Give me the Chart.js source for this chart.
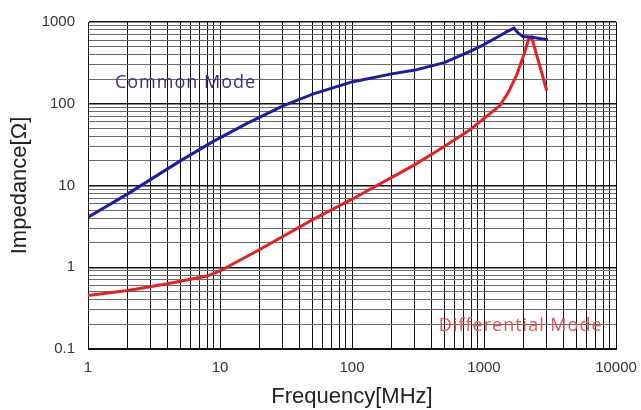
<!DOCTYPE html>
<html>
<head>
<meta charset="utf-8">
<script src="https://cdn.jsdelivr.net/npm/chart.js@4"></script>
<style>
  html, body { margin: 0; padding: 0; background: #fff; }
  #wrap { width: 641px; height: 410px; }
</style>
</head>
<body>
<div id="wrap"><canvas id="impChart" width="641" height="410"></canvas></div>
<script>
// Common mode impedance
const cmFreq = [1, 2, 5, 8.9, 15.9, 30, 51, 100, 200, 300, 500, 783, 1000, 1080, 1320, 1490, 1690, 1820, 1975, 2300, 3050];
const cmImp = [4.1, 7.9, 20, 34.6, 57, 94, 132, 185, 232, 258, 318, 438, 528, 570, 680, 764, 840, 730, 665, 650, 607];

// Differential mode impedance
const dmFreq = [1, 2, 4, 8, 10, 20, 50, 100, 300, 500, 783, 1000, 1320, 1530, 1780, 2045, 2170, 2296, 2500, 2735, 2985];
const dmImp = [0.45, 0.52, 0.63, 0.78, 0.9, 1.65, 3.8, 6.8, 18, 30, 48, 66, 95, 138, 230, 438, 607, 654, 400, 241, 145];

// axis decades + labels
const xDecades = [1, 10, 100, 1000, 10000];
const xTickLabels = ["1", "10", "100", "1000", "10000"];
const yDecades = [0.1, 1, 10, 100, 1000];
const yTickLabels = ["0.1", "1", "10", "100", "1000"];

// curve annotations
const annotations = [
  { text: "Common Mode", x: 1.6, y: 178, color: "#33338f" },
  { text: "Differential Mode", x: 455, y: 0.19, color: "#e25555" },
];

// 1..9 per decade, label only on the decade itself
function buildLogTicks(decades, labels) {
  const out = [];
  decades.forEach((d, i) => {
    if (i === decades.length - 1) {
      out.push({ value: d, label: labels[i], major: true });
      return;
    }
    for (let m = 1; m <= 9; m++) {
      out.push({ value: d * m, label: m === 1 ? labels[i] : "", major: m === 1 });
    }
  });
  return out;
}

const xTicks = buildLogTicks(xDecades, xTickLabels);
const yTicks = buildLogTicks(yDecades, yTickLabels);

const toPoints = (xs, ys) => xs.map((x, i) => ({ x: x, y: ys[i] }));

const annotationPlugin = {
  id: "curveLabels",
  afterDatasetsDraw(chart) {
    const ctx = chart.ctx;
    const xs = chart.scales.x;
    const ys = chart.scales.y;
    ctx.save();
    ctx.font = "18px 'Open Sans'";
    ctx.letterSpacing = "1px";
    ctx.textBaseline = "middle";
    ctx.textAlign = "left";
    annotations.forEach((a) => {
      ctx.fillStyle = a.color;
      ctx.fillText(a.text, xs.getPixelForValue(a.x), ys.getPixelForValue(a.y));
    });
    ctx.restore();
  },
};

function initImpedanceChart() {
  const ctx = document.getElementById("impChart").getContext("2d");

  new Chart(ctx, {
    type: "scatter",
    data: {
      datasets: [
        {
          label: "Common Mode",
          data: toPoints(cmFreq, cmImp),
          showLine: true,
          borderColor: "#1c1ca8",
          borderWidth: 3,
          pointRadius: 0,
          tension: 0,
        },
        {
          label: "Differential Mode",
          data: toPoints(dmFreq, dmImp),
          showLine: true,
          borderColor: "#e42222",
          borderWidth: 3,
          pointRadius: 0,
          tension: 0,
        },
      ],
    },
    options: {
      responsive: false,
      animation: false,
      layout: { padding: { top: 17, right: 25, left: 0, bottom: 0 } },
      plugins: {
        legend: { display: false },
        tooltip: { enabled: false },
      },
      scales: {
        x: {
          type: "logarithmic",
          min: 1,
          max: 10000,
          afterBuildTicks: (scale) => {
            scale.ticks = xTicks.map((t) => ({ value: t.value, major: t.major }));
          },
          afterFit: (scale) => {
            scale.height = 61;
            scale.paddingLeft = 0;
            scale.paddingRight = 0;
          },
          ticks: {
            autoSkip: false,
            maxRotation: 0,
            padding: 10,
            color: "#333",
            font: { family: "'Liberation Sans', Arial", size: 15 },
            callback: (value, i) => xTicks[i].label,
          },
          grid: {
            drawTicks: false,
            color: "#111",
            lineWidth: 1,
          },
          border: { display: true, color: "#111", width: 1 },
          title: {
            display: true,
            text: "Frequency[MHz]",
            color: "#222",
            font: { family: "'Liberation Sans', Arial", size: 22 },
            padding: { top: 0, bottom: 0 },
          },
        },
        y: {
          type: "logarithmic",
          min: 0.1,
          max: 1000,
          afterBuildTicks: (scale) => {
            scale.ticks = yTicks.map((t) => ({ value: t.value, major: t.major }));
          },
          afterFit: (scale) => {
            scale.width = 88;
          },
          ticks: {
            autoSkip: false,
            padding: 13,
            color: "#333",
            font: { family: "'Liberation Sans', Arial", size: 15 },
            callback: (value, i) => yTicks[i].label,
          },
          grid: {
            drawTicks: false,
            color: (c) => (c.tick && c.tick.major ? "#111" : "#6a6a6a"),
            lineWidth: (c) => (c.tick && c.tick.major ? 1.5 : 1),
          },
          border: { display: true, color: "#111", width: 1 },
          title: {
            display: true,
            text: "Impedance[Ω]",
            color: "#222",
            font: { family: "'Liberation Sans', Arial", size: 22 },
            padding: { top: 7, bottom: 0 },
          },
        },
      },
    },
    plugins: [annotationPlugin],
  });
}

window.addEventListener("DOMContentLoaded", initImpedanceChart);
</script>
</body>
</html>
